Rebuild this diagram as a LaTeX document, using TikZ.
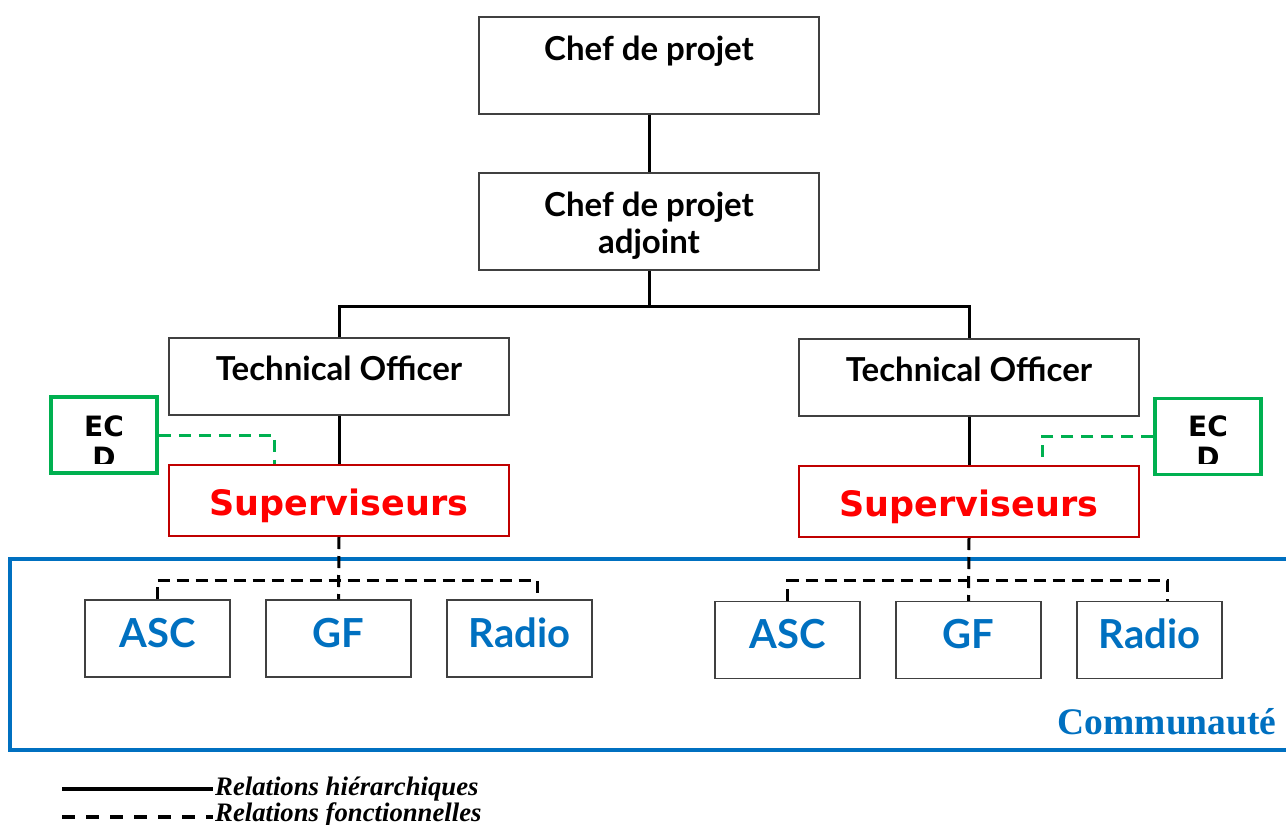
\documentclass[tikz,border=0pt]{standalone}
\usepackage{fontspec}
\setmainfont{Liberation Serif}
\newfontfamily\gill{Lato}
\newfontfamily\tah{DejaVu Sans}
\usetikzlibrary{calc}
\definecolor{cblue}{HTML}{0070C0}
\definecolor{cred}{HTML}{FF0000}
\definecolor{cdred}{HTML}{C00000}
\definecolor{cgreen}{HTML}{00B050}
\definecolor{cgray}{HTML}{404040}
\tikzset{
  box/.style={draw=cgray, line width=1.3pt, rectangle, inner sep=0pt},
  bigbox/.style={box, minimum width=340pt, minimum height=97pt, font=\gill\bfseries\fontsize{33}{37}\selectfont},
  tobox/.style={box, minimum width=340pt, minimum height=77pt, text height=24pt, text depth=17pt, font=\gill\bfseries\fontsize{33}{37}\selectfont},
  supbox/.style={draw=cdred, line width=2pt, rectangle, inner sep=0pt, minimum width=340pt, minimum height=71pt, text height=30.5pt, text depth=0pt, text=cred, font=\tah\bfseries\fontsize{35}{40}\selectfont},
  leafbox/.style={box, minimum width=145pt, minimum height=77pt, text height=28.7pt, text depth=11pt, text=cblue, font=\gill\bfseries\fontsize{40}{44}\selectfont},
  ecdbox/.style={draw=cgreen, line width=3.5pt, rectangle, inner sep=0pt, minimum width=106pt, minimum height=76pt},
  hier/.style={line width=3pt, black},
  func/.style={line width=3pt, black, dash pattern=on 12pt off 7pt},
  gfunc/.style={line width=3pt, cgreen, dash pattern=on 12pt off 8pt},
}
\begin{document}
\begin{tikzpicture}[x=1pt,y=-1pt]
\useasboundingbox (0,0) rectangle (1286,825);
% community frame
\draw[cblue, line width=4pt] (1300,559) -- (10,559) -- (10,750) -- (1300,750);
\node[text=cblue, font=\bfseries\fontsize{37.5}{40}\selectfont, anchor=east] (comm) at (1280,722) {Communauté};
% top
\node[bigbox] (chef) at (649,65.5) {\raisebox{-12.75pt}[0pt][0pt]{\begin{tabular}{@{}c@{}}Chef de projet\\\phantom{adjoint}\end{tabular}}};
\node[bigbox] (adj) at (649,221.5) {\raisebox{-12.75pt}[0pt][0pt]{\begin{tabular}{@{}c@{}}Chef de projet\\adjoint\end{tabular}}};
\node[tobox] (to1) at (339,376.5) {Technical Officer};
\node[tobox] (to2) at (969,377.5) {Technical Officer};
\node[supbox] (sup1) at (339,500.5) {Superviseurs};
\node[supbox] (sup2) at (969,501.5) {Superviseurs};
% leaves
\foreach \n/\x/\y/\t in {asc1/157.5/638.5/ASC, gf1/338.5/638.5/GF, radio1/519.5/638.5/Radio, asc2/787.5/640/ASC, gf2/968.5/640/GF, radio2/1149.5/640/Radio}
  \node[leafbox] (\n) at (\x,\y) {\t};
% ECD boxes
\node[ecdbox] (ecd1) at (104,435) {};
\node[ecdbox] (ecd2) at (1208,436.5) {};
\begin{scope}
  \clip (50,396) rectangle (158,463);
  \node[font=\tah\bfseries\fontsize{28}{31}\selectfont, align=center] (ecdt1) at (104,442) {EC\\D};
\end{scope}
\begin{scope}
  \clip (1154,397) rectangle (1262,463);
  \node[font=\tah\bfseries\fontsize{28}{31}\selectfont, align=center] (ecdt2) at (1208,442) {EC\\D};
\end{scope}
% hierarchical
\draw[hier] (chef.south) -- (adj.north);
\draw[hier] (adj.south) -- ++(0,36) coordinate (j);
\draw[hier] (to1.north) |- (j) -| (to2.north);
\draw[hier] (to1.south) -- (sup1.north);
\draw[hier] (to2.south) -- (sup2.north);
% functional
\draw[func] (sup1.south) -- (gf1.north);
\draw[func] (asc1.north) -- ++(0,-19) -| ($(radio1.north)+(17.5,0)$);
\draw[func] (sup2.south) -- (gf2.north);
\draw[func] (asc2.north) -- ++(0,-20) -| ($(radio2.north)+(17.5,0)$);
\draw[gfunc] (ecd1.east) -| ($(sup1.north west)+(106,0)$);
\draw[gfunc] (ecd2.west) -| ($(sup2.north west)+(244,0)$);
% legend
\coordinate (l1a) at (62,789);
\coordinate (l1b) at (213,789);
\coordinate (l2a) at (62,817);
\coordinate (l2b) at (213,817);
\draw[line width=4pt] (l1a) -- (l1b);
\draw[line width=4pt, dash pattern=on 13pt off 11pt] (l2a) -- (l2b);
\node[anchor=base west, inner sep=0pt, font=\bfseries\itshape\fontsize{26.7}{28}\selectfont] (leg1) at (215,795) {Relations hiérarchiques};
\node[anchor=base west, inner sep=0pt, font=\bfseries\itshape\fontsize{26.7}{28}\selectfont] (leg2) at (215,821) {Relations fonctionnelles};
\end{tikzpicture}
\end{document}
